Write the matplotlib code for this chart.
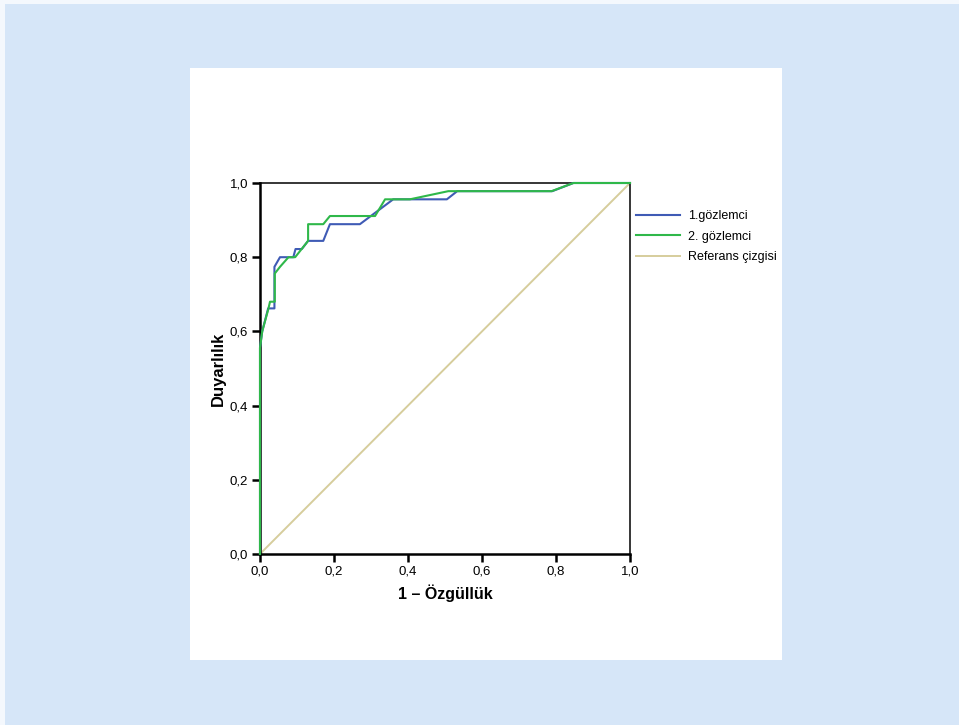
import matplotlib.pyplot as plt
from matplotlib.patches import Rectangle
from matplotlib.ticker import FuncFormatter

plt.rcParams['font.family'] = ['Liberation Sans', 'DejaVu Sans']

# ROC curves (x = 1 - specificity, y = sensitivity)
obs1_x = [0.0, 0.0, 0.006, 0.022, 0.039, 0.039, 0.054, 0.09, 0.096, 0.113, 0.13,
          0.171, 0.189, 0.27, 0.36, 0.505, 0.533, 0.79, 0.847, 1.0]
obs1_y = [0.0, 0.556, 0.6, 0.662, 0.662, 0.774, 0.80, 0.80, 0.822, 0.822, 0.844,
          0.844, 0.889, 0.889, 0.956, 0.956, 0.978, 0.978, 1.0, 1.0]

obs2_x = [0.0, 0.0, 0.006, 0.022, 0.027, 0.04, 0.04, 0.054, 0.077, 0.095, 0.13,
          0.13, 0.171, 0.189, 0.311, 0.338, 0.405, 0.509, 0.788, 0.847, 1.0]
obs2_y = [0.0, 0.556, 0.6, 0.658, 0.68, 0.68, 0.756, 0.774, 0.80, 0.80, 0.844,
          0.889, 0.889, 0.911, 0.911, 0.956, 0.956, 0.978, 0.978, 1.0, 1.0]

ref_x = [0.0, 1.0]
ref_y = [0.0, 1.0]

labels = ['1.gözlemci', '2. gözlemci', 'Referans çizgisi']
colors = ['#3f5bb5', '#2fb84a', '#d6cd9c']
ticks = [0.0, 0.2, 0.4, 0.6, 0.8, 1.0]

W, H = 959, 725
fig = plt.figure(figsize=(W / 100, H / 100), dpi=100)
fig.patch.set_facecolor('#d6e6f8')

# white strips at the left and top edge
fig.patches.append(Rectangle((0, 0), 5 / W, 1, transform=fig.transFigure,
                             facecolor='#f4f8fd', edgecolor='none', zorder=-10))
fig.patches.append(Rectangle((0, 1 - 4 / H), 1, 4 / H, transform=fig.transFigure,
                             facecolor='#f4f8fd', edgecolor='none', zorder=-10))

# white chart panel
fig.patches.append(Rectangle((190 / W, (H - 660) / H), 592 / W, 592 / H,
                             transform=fig.transFigure, facecolor='white',
                             edgecolor='none', zorder=-10))

ax = fig.add_axes([260 / W, (H - 554) / H, 370 / W, 371 / H])
ax.set_facecolor('white')

ax.plot(ref_x, ref_y, color=colors[2], lw=1.4, label=labels[2], zorder=2, clip_on=False)
ax.plot(obs1_x, obs1_y, color=colors[0], lw=1.5, label=labels[0], zorder=3, clip_on=False)
ax.plot(obs2_x, obs2_y, color=colors[1], lw=1.5, label=labels[1], zorder=4, clip_on=False)

ax.set_xlim(0, 1)
ax.set_ylim(0, 1)
ax.set_xticks(ticks)
ax.set_yticks(ticks)
fmt = FuncFormatter(lambda v, p: f'{v:.1f}'.replace('.', ','))
ax.xaxis.set_major_formatter(fmt)
ax.yaxis.set_major_formatter(fmt)
ax.tick_params(direction='out', length=6, width=1.8, labelsize=9.5,
               colors='black', pad=2.5)

for side in ['left', 'bottom']:
    ax.spines[side].set_linewidth(1.8)
for side in ['top', 'right']:
    ax.spines[side].set_linewidth(1.1)

ax.set_xlabel('1 – Özgüllük', fontsize=11.5, fontweight='bold', labelpad=5)
ax.set_ylabel('Duyarlılık', fontsize=12, fontweight='bold', labelpad=3)

handles, labs = ax.get_legend_handles_labels()
order = [labs.index(l) for l in labels]
leg = ax.legend([handles[i] for i in order], [labs[i] for i in order],
                loc='upper left', bbox_to_anchor=(1.016, 0.926), frameon=False,
                borderpad=0, borderaxespad=0, handlelength=3.5,
                handletextpad=0.65, labelspacing=0.66, fontsize=9)

fig.savefig('out.png', dpi=100, facecolor=fig.get_facecolor())
